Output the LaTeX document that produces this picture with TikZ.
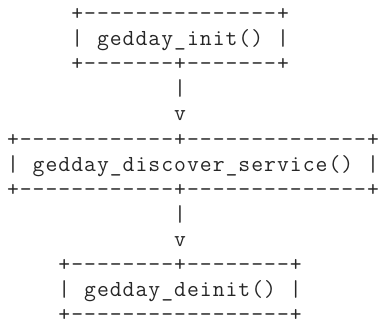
\documentclass[tikz,border=0pt]{standalone}
\newlength\cwd
\setlength\cwd{12.86pt}
\newcommand\cellrow[1]{\cellrowi#1\relax}
\def\cellrowi#1{\ifx#1\relax\else\makebox[\cwd][c]{#1}\expandafter\cellrowi\fi}
\begin{document}
\begin{tikzpicture}[x=1pt,y=1pt,
  asciirow/.style={anchor=base west, inner sep=0pt, outer sep=0pt,
    font=\fontsize{23}{25.2}\selectfont\ttfamily, text=black!85}]
\useasboundingbox (0,0) rectangle (378,-325);
\def\cw{12.86}
\def\lp{25.1}
\def\bx{6.5}
\def\by{-20.5}
% top box
\node[asciirow] (r0)  at (\bx+5*\cw, \by-0*\lp)  {\cellrow{+---------------+}};
\node[asciirow] (r1)  at (\bx+5*\cw, \by-1*\lp)  {\cellrow{|~gedday\_init()~|}};
\node[asciirow] (r2)  at (\bx+5*\cw, \by-2*\lp)  {\cellrow{+-------+-------+}};
\node[asciirow] (r3)  at (\bx+13*\cw, \by-3*\lp) {\cellrow{|}};
\node[asciirow] (r4)  at (\bx+13*\cw, \by-4*\lp) {\cellrow{v}};
% middle box
\node[asciirow] (r5)  at (\bx+0*\cw, \by-5*\lp)  {\cellrow{+------------+--------------+}};
\node[asciirow] (r6)  at (\bx+0*\cw, \by-6*\lp)  {\cellrow{|~gedday\_discover\_service()~|}};
\node[asciirow] (r7)  at (\bx+0*\cw, \by-7*\lp)  {\cellrow{+------------+--------------+}};
\node[asciirow] (r8)  at (\bx+13*\cw, \by-8*\lp) {\cellrow{|}};
\node[asciirow] (r9)  at (\bx+13*\cw, \by-9*\lp) {\cellrow{v}};
% bottom box
\node[asciirow] (r10) at (\bx+4*\cw, \by-10*\lp) {\cellrow{+--------+--------+}};
\node[asciirow] (r11) at (\bx+4*\cw, \by-11*\lp) {\cellrow{|~gedday\_deinit()~|}};
\node[asciirow] (r12) at (\bx+4*\cw, \by-12*\lp) {\cellrow{+-----------------+}};
\end{tikzpicture}
\end{document}
